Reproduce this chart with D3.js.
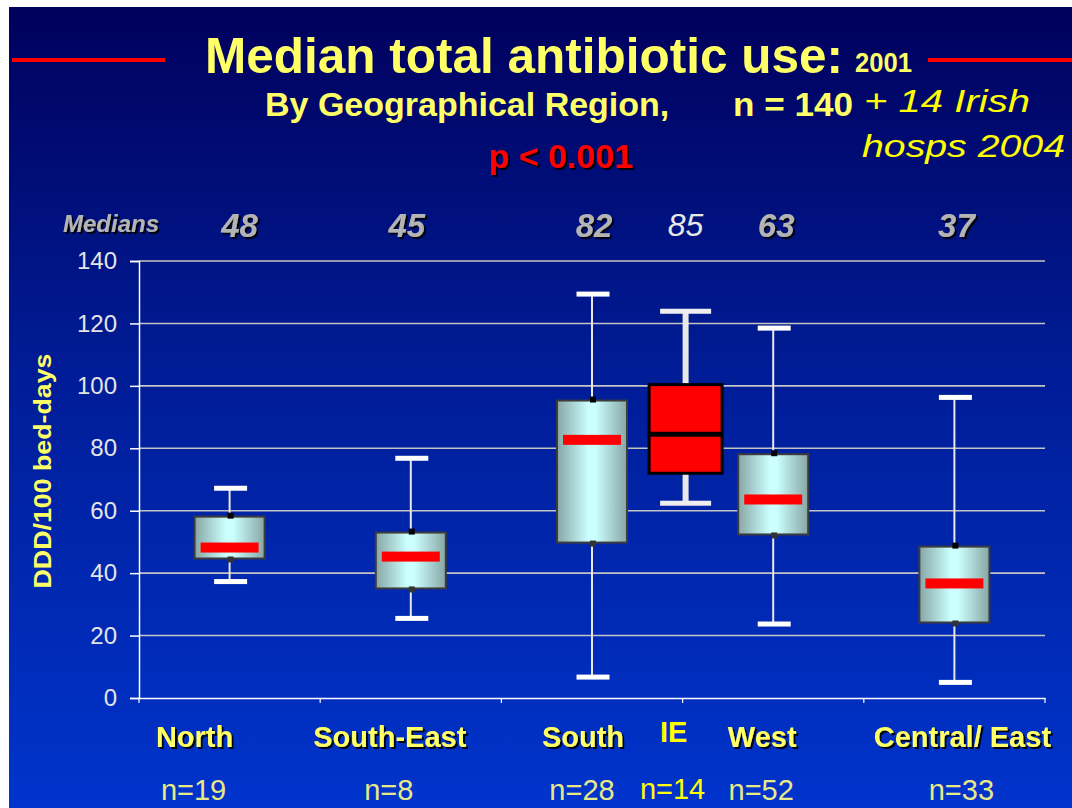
<!DOCTYPE html>
<html>
<head>
<meta charset="utf-8">
<script src="https://cdn.jsdelivr.net/npm/d3@7"></script>
<style>
  html, body { margin: 0; padding: 0; background: #fff; }
  svg { display: block; }
  text { font-family: "Liberation Sans", Arial, sans-serif; }
</style>
</head>
<body>
<svg width="1072" height="808"></svg>
<script>
// chart data
var regions = ["North", "South-East", "South", "West", "Central/ East"];
var regionCounts = [19, 8, 28, 52, 33];
var lowWhisker = [37.3, 25.5, 6.7, 23.7, 5.0];
var lowerQuartile = [44.7, 35.1, 49.8, 52.4, 24.2];
var medians = [48.2, 45.3, 82.7, 63.6, 36.7];
var upperQuartile = [58.1, 53.0, 95.3, 78.1, 48.5];
var highWhisker = [67.2, 76.8, 129.4, 118.5, 96.3];
var medianLabels = ["48", "45", "82", "63", "37"];

// Irish hospitals 2004, drawn between South and West
var ieLabel = "IE";
var ieCount = 14;
var ieBox = { low: 62.4, q1: 72.0, median: 84.5, q3: 100.4, high: 123.9 };
var ieMedianLabel = "85";

var yTicks = [0, 20, 40, 60, 80, 100, 120, 140];

var svg = d3.select("svg"),
    width = +svg.attr("width"),
    height = +svg.attr("height");

var defs = svg.append("defs");

var bg = defs.append("linearGradient").attr("id", "bg")
    .attr("x1", 0).attr("y1", 0).attr("x2", 0).attr("y2", 1);
bg.append("stop").attr("offset", "0%").attr("stop-color", "#00005c");
bg.append("stop").attr("offset", "45%").attr("stop-color", "#001c96");
bg.append("stop").attr("offset", "100%").attr("stop-color", "#0034cc");

var boxFill = defs.append("linearGradient").attr("id", "boxFill")
    .attr("x1", 0).attr("y1", 0).attr("x2", 1).attr("y2", 0);
boxFill.append("stop").attr("offset", "0%").attr("stop-color", "#86a6a4");
boxFill.append("stop").attr("offset", "45%").attr("stop-color", "#ccffff");
boxFill.append("stop").attr("offset", "55%").attr("stop-color", "#ccffff");
boxFill.append("stop").attr("offset", "100%").attr("stop-color", "#86a6a4");

var shadow = defs.append("filter").attr("id", "shadow")
    .attr("x", "-10%").attr("y", "-10%").attr("width", "130%").attr("height", "140%");
shadow.append("feDropShadow").attr("dx", 2).attr("dy", 2)
    .attr("stdDeviation", 0.6).attr("flood-color", "#000").attr("flood-opacity", 0.9);

// white frame edge, then slide background
svg.append("rect").attr("width", width).attr("height", height).attr("fill", "#fff");
svg.append("rect").attr("x", 9).attr("y", 7)
    .attr("width", width - 9).attr("height", height - 7).attr("fill", "url(#bg)");

// scales
var x = d3.scaleBand().domain(regions).range([139, 1045]);
var y = d3.scaleLinear().domain([0, 140]).range([698, 261]);
var cx = function(name) { return x(name) + x.bandwidth() / 2; };
var ieX = (cx("South") + cx("West")) / 2 + 3;

// label nudges relative to each box centre (the slide had them hand placed)
var medianNudge = { "North": 10, "South-East": -4, "South": 2, "West": 3, "Central/ East": 2 };
var labelNudge = { "North": -35, "South-East": -21, "South": -9, "West": -11, "Central/ East": 8 };

// title block
svg.append("line").attr("x1", 12).attr("x2", 165).attr("y1", 60).attr("y2", 60)
    .attr("stroke", "#ff0000").attr("stroke-width", 4);
svg.append("line").attr("x1", 928).attr("x2", 1072).attr("y1", 60).attr("y2", 60)
    .attr("stroke", "#ff0000").attr("stroke-width", 4);

svg.append("text").attr("x", 205).attr("y", 73)
    .attr("font-size", 50).attr("font-weight", "bold").attr("fill", "#ffff66")
    .attr("textLength", 638).attr("lengthAdjust", "spacingAndGlyphs")
    .text("Median total antibiotic use:");
svg.append("text").attr("x", 855).attr("y", 72)
    .attr("font-size", 28).attr("font-weight", "bold").attr("fill", "#ffff66")
    .attr("textLength", 57).attr("lengthAdjust", "spacingAndGlyphs")
    .text("2001");
svg.append("text").attr("x", 265).attr("y", 116)
    .attr("font-size", 34).attr("font-weight", "bold").attr("fill", "#ffff66")
    .text("By Geographical Region,");
svg.append("text").attr("x", 733).attr("y", 116)
    .attr("font-size", 34).attr("font-weight", "bold").attr("fill", "#ffff66")
    .attr("textLength", 120).attr("lengthAdjust", "spacingAndGlyphs")
    .text("n = 140");
svg.append("text").attr("x", 864).attr("y", 112)
    .attr("font-size", 31).attr("font-style", "italic").attr("fill", "#ffff00")
    .attr("font-family", "'Comic Sans MS', 'DejaVu Sans', sans-serif")
    .attr("textLength", 166).attr("lengthAdjust", "spacingAndGlyphs")
    .text("+ 14 Irish");
svg.append("text").attr("x", 862).attr("y", 157)
    .attr("font-size", 31).attr("font-style", "italic").attr("fill", "#ffff00")
    .attr("font-family", "'Comic Sans MS', 'DejaVu Sans', sans-serif")
    .attr("textLength", 203).attr("lengthAdjust", "spacingAndGlyphs")
    .text("hosps 2004");
svg.append("text").attr("x", 561).attr("y", 168).attr("text-anchor", "middle")
    .attr("font-size", 34).attr("font-weight", "bold").attr("fill", "#ff0000")
    .attr("filter", "url(#shadow)")
    .text("p < 0.001");

// medians row
svg.append("text").attr("x", 111).attr("y", 232).attr("text-anchor", "middle")
    .attr("font-size", 24).attr("font-weight", "bold").attr("font-style", "italic")
    .attr("fill", "#b4b4b4").attr("filter", "url(#shadow)")
    .text("Medians");
svg.append("g").selectAll("text")
    .data(regions)
    .enter().append("text")
      .attr("x", function(d) { return cx(d) + medianNudge[d]; })
      .attr("y", 237).attr("text-anchor", "middle")
      .attr("font-size", 33).attr("font-weight", "bold").attr("font-style", "italic")
      .attr("fill", "#b4b4b4").attr("filter", "url(#shadow)")
      .text(function(d, i) { return medianLabels[i]; });
svg.append("text").attr("x", ieX).attr("y", 236).attr("text-anchor", "middle")
    .attr("font-size", 32).attr("font-style", "italic").attr("fill", "#e6e6e6")
    .text(ieMedianLabel);

// gridlines and y axis
svg.append("g").selectAll("line")
    .data(yTicks.slice(1))
    .enter().append("line")
      .attr("x1", 139).attr("x2", 1045)
      .attr("y1", function(d) { return y(d); }).attr("y2", function(d) { return y(d); })
      .attr("stroke", "#c4c4c4").attr("stroke-width", 1.6);

var yAxis = svg.append("g").attr("transform", "translate(139,0)")
    .call(d3.axisLeft(y).tickValues(yTicks).tickSize(9).tickPadding(13));
yAxis.select(".domain").attr("stroke", "#ffffff").attr("stroke-width", 1.5);
yAxis.selectAll(".tick line").attr("stroke", "#ffffff").attr("stroke-width", 1.5);
yAxis.selectAll(".tick text").attr("fill", "#e4e4e4").attr("font-size", 24)
    .attr("font-family", "'Liberation Sans', Arial, sans-serif");

var xAxis = svg.append("g").attr("transform", "translate(0,698)")
    .call(d3.axisBottom(x).tickSize(0).tickFormat(""));
xAxis.select(".domain").attr("stroke", "#ffffff").attr("stroke-width", 1.5);
svg.append("g").selectAll("line")
    .data(d3.range(regions.length + 1))
    .enter().append("line")
      .attr("x1", function(i) { return 139 + i * x.step(); })
      .attr("x2", function(i) { return 139 + i * x.step(); })
      .attr("y1", 698).attr("y2", 703)
      .attr("stroke", "#ffffff").attr("stroke-width", 1.2);

svg.append("text")
    .attr("transform", "translate(51,471) rotate(-90)")
    .attr("text-anchor", "middle")
    .attr("font-size", 24).attr("font-weight", "bold").attr("fill", "#ffff66")
    .attr("textLength", 235).attr("lengthAdjust", "spacingAndGlyphs")
    .text("DDD/100 bed-days");

// region boxes
var boxW = 70, capW = 33;
var boxes = svg.append("g").selectAll("g")
    .data(regions)
    .enter().append("g");

boxes.append("line")
    .attr("x1", cx).attr("x2", cx)
    .attr("y1", function(d, i) { return y(highWhisker[i]); })
    .attr("y2", function(d, i) { return y(lowWhisker[i]); })
    .attr("stroke", "#e8e8e8").attr("stroke-width", 2);
boxes.append("rect")
    .attr("x", function(d) { return cx(d) - capW / 2 + 1; })
    .attr("y", function(d, i) { return y(highWhisker[i]) - 2.5; })
    .attr("width", capW).attr("height", 5).attr("fill", "#ffffff");
boxes.append("rect")
    .attr("x", function(d) { return cx(d) - capW / 2 + 1; })
    .attr("y", function(d, i) { return y(lowWhisker[i]) - 2.5; })
    .attr("width", capW).attr("height", 5).attr("fill", "#ffffff");
boxes.append("rect")
    .attr("x", function(d) { return cx(d) - boxW / 2; })
    .attr("y", function(d, i) { return y(upperQuartile[i]); })
    .attr("width", boxW)
    .attr("height", function(d, i) { return y(lowerQuartile[i]) - y(upperQuartile[i]); })
    .attr("fill", "url(#boxFill)").attr("stroke", "#3c3c3c").attr("stroke-width", 2);
boxes.append("rect")
    .attr("x", function(d) { return cx(d) - boxW / 2 + 6; })
    .attr("y", function(d, i) { return y(medians[i]) - 5; })
    .attr("width", boxW - 12).attr("height", 10).attr("fill", "#ff0000");
boxes.append("rect")
    .attr("x", function(d) { return cx(d) - 2; })
    .attr("y", function(d, i) { return y(upperQuartile[i]) - 4; })
    .attr("width", 6).attr("height", 6).attr("fill", "#000000");
boxes.append("rect")
    .attr("x", function(d) { return cx(d) - 2; })
    .attr("y", function(d, i) { return y(lowerQuartile[i]) - 2; })
    .attr("width", 6).attr("height", 6).attr("fill", "#333333");

// IE box
var ie = svg.append("g");
ie.append("line").attr("x1", ieX).attr("x2", ieX)
    .attr("y1", y(ieBox.high)).attr("y2", y(ieBox.low))
    .attr("stroke", "#e8e8e8").attr("stroke-width", 6);
ie.append("rect").attr("x", ieX - 25.5).attr("y", y(ieBox.high) - 2.5)
    .attr("width", 51).attr("height", 5).attr("fill", "#eeeeee");
ie.append("rect").attr("x", ieX - 25.5).attr("y", y(ieBox.low) - 2.5)
    .attr("width", 51).attr("height", 5).attr("fill", "#eeeeee");
ie.append("rect").attr("x", ieX - 36.5).attr("y", y(ieBox.q3))
    .attr("width", 73).attr("height", y(ieBox.q1) - y(ieBox.q3))
    .attr("fill", "#ff0000").attr("stroke", "#000000").attr("stroke-width", 3);
ie.append("line").attr("x1", ieX - 36.5).attr("x2", ieX + 36.5)
    .attr("y1", y(ieBox.median)).attr("y2", y(ieBox.median))
    .attr("stroke", "#000000").attr("stroke-width", 5);

// category labels and counts
svg.append("g").selectAll("text")
    .data(regions)
    .enter().append("text")
      .attr("x", function(d) { return cx(d) + labelNudge[d]; })
      .attr("y", 747).attr("text-anchor", "middle")
      .attr("font-size", 29).attr("font-weight", "bold").attr("fill", "#ffff66")
      .attr("filter", "url(#shadow)")
      .text(function(d) { return d; });
svg.append("text").attr("x", ieX - 12).attr("y", 742).attr("text-anchor", "middle")
    .attr("font-size", 29).attr("font-weight", "bold").attr("fill", "#ffff00")
    .text(ieLabel);

svg.append("g").selectAll("text")
    .data(regions)
    .enter().append("text")
      .attr("x", function(d) { return cx(d) + labelNudge[d] - 1; })
      .attr("y", 800).attr("text-anchor", "middle")
      .attr("font-size", 29).attr("fill", "#e8e888")
      .text(function(d, i) { return "n=" + regionCounts[i]; });
svg.append("text").attr("x", ieX - 13).attr("y", 799).attr("text-anchor", "middle")
    .attr("font-size", 29).attr("fill", "#ffff00")
    .text("n=" + ieCount);
</script>
</body>
</html>
